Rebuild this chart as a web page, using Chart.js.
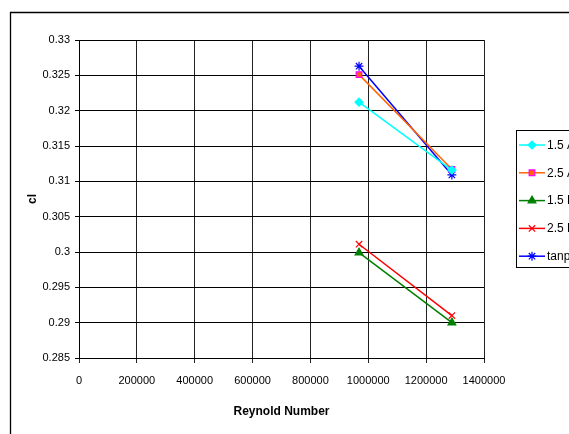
<!DOCTYPE html>
<html>
<head>
<meta charset="utf-8">
<script src="https://cdn.jsdelivr.net/npm/chart.js@4/dist/chart.umd.min.js"></script>
<style>
  html, body { margin: 0; padding: 0; background: #fff; overflow: hidden; }
  canvas { display: block; }
</style>
</head>
<body>
<canvas id="chart" width="569" height="434"></canvas>
<script>
// data
const reynolds = [968000, 1289000];
const cl15A = [0.3212, 0.3116];
const cl25A = [0.3251, 0.3117];
const cl15B = [0.2999, 0.2900];
const cl25B = [0.3011, 0.2910];
const clTanpa = [0.3263, 0.3109];
const seriesNames = ['1.5 Atas', '2.5 Atas', '1.5 Bawah', '2.5 Bawah', 'tanpa'];
const xTicks = { min: 0, max: 1400000, step: 200000 };
const yTicks = { min: 0.285, max: 0.33, step: 0.005 };

const FONT = 'Arial, "Liberation Sans", sans-serif';

function pts(ys) {
  return reynolds.map((x, i) => ({ x: x, y: ys[i] }));
}

function makeSet(label, ys, line, fill, border, style, r) {
  return {
    label: label,
    data: pts(ys),
    borderColor: line,
    borderWidth: 1.5,
    pointStyle: style,
    pointRadius: r,
    pointBackgroundColor: fill,
    pointBorderColor: border,
    pointBorderWidth: 1.2,
    fill: false,
    tension: 0
  };
}

// outer frame, drawn before the chart
const frame = {
  id: 'frame',
  beforeDraw(chart) {
    const ctx = chart.ctx;
    ctx.save();
    ctx.fillStyle = '#fff';
    ctx.fillRect(0, 0, chart.width, chart.height);
    ctx.strokeStyle = '#000';
    ctx.lineWidth = 1.3;
    ctx.beginPath();
    ctx.moveTo(10.5, chart.height);
    ctx.lineTo(10.5, 12.5);
    ctx.lineTo(chart.width, 12.5);
    ctx.stroke();
    ctx.restore();
  }
};

// legend box on the right (cut off by the edge like the original)
const legendBox = {
  id: 'legendBox',
  afterDraw(chart) {
    const ctx = chart.ctx;
    ctx.save();
    ctx.strokeStyle = '#000';
    ctx.lineWidth = 1;
    ctx.strokeRect(516.5, 130.5, 90, 137);
    chart.data.datasets.forEach((ds, i) => {
      const y = 145 + i * 27.8;
      ctx.strokeStyle = ds.borderColor;
      ctx.lineWidth = 1.5;
      ctx.beginPath();
      ctx.moveTo(519, y);
      ctx.lineTo(545, y);
      ctx.stroke();
      ctx.fillStyle = ds.pointBackgroundColor;
      ctx.strokeStyle = ds.pointBorderColor;
      ctx.lineWidth = ds.pointBorderWidth;
      Chart.helpers.drawPoint(ctx, { pointStyle: ds.pointStyle, radius: ds.pointRadius, rotation: 0, borderWidth: ds.pointBorderWidth }, 532, y);
      ctx.fillStyle = '#000';
      ctx.font = '12px ' + FONT;
      ctx.textBaseline = 'middle';
      ctx.textAlign = 'left';
      ctx.fillText(ds.label, 547, y + 0.5);
    });
    ctx.restore();
  }
};

new Chart(document.getElementById('chart'), {
  type: 'line',
  data: {
    datasets: [
      makeSet(seriesNames[0], cl15A, '#00FFFF', '#00FFFF', '#00FFFF', 'rectRot', 4),
      makeSet(seriesNames[1], cl25A, '#FF6600', '#FF6600', '#FF00FF', 'rect', 4),
      makeSet(seriesNames[2], cl15B, '#008000', '#008000', '#008000', 'triangle', 4.5),
      makeSet(seriesNames[3], cl25B, '#FF0000', '#FF0000', '#FF0000', 'crossRot', 4.5),
      makeSet(seriesNames[4], clTanpa, '#0000FF', '#0000FF', '#0000FF', 'star', 4.5)
    ]
  },
  options: {
    responsive: false,
    animation: false,
    devicePixelRatio: 1,
    layout: { padding: { top: 40, right: 85, bottom: 0, left: 0 } },
    plugins: {
      legend: { display: false },
      tooltip: { enabled: false }
    },
    scales: {
      x: {
        type: 'linear',
        min: xTicks.min,
        max: xTicks.max,
        afterFit(s) { s.height = 76; },
        ticks: {
          stepSize: xTicks.step,
          color: '#000',
          font: { family: FONT, size: 11 },
          padding: 11,
          maxRotation: 0,
          callback: v => String(v)
        },
        grid: { color: '#222', lineWidth: 1, tickLength: 5, drawTicks: true },
        border: { color: '#000', width: 1 },
        title: {
          display: true,
          text: 'Reynold Number',
          color: '#000',
          font: { family: FONT, size: 12, weight: 'bold' },
          padding: { top: 0, bottom: 15 }
        }
      },
      y: {
        min: yTicks.min,
        max: yTicks.max,
        afterFit(s) { s.width = 79; },
        ticks: {
          stepSize: yTicks.step,
          color: '#000',
          font: { family: FONT, size: 11 },
          padding: 5,
          callback: v => String(Number(v.toFixed(3)))
        },
        grid: { color: '#000', lineWidth: 1, tickLength: 4, drawTicks: true },
        border: { color: '#000', width: 1 },
        title: {
          display: true,
          text: 'cl',
          color: '#000',
          font: { family: FONT, size: 12, weight: 'bold' },
          padding: { top: 25, bottom: 0 }
        }
      }
    }
  },
  plugins: [frame, legendBox]
});
</script>
</body>
</html>
